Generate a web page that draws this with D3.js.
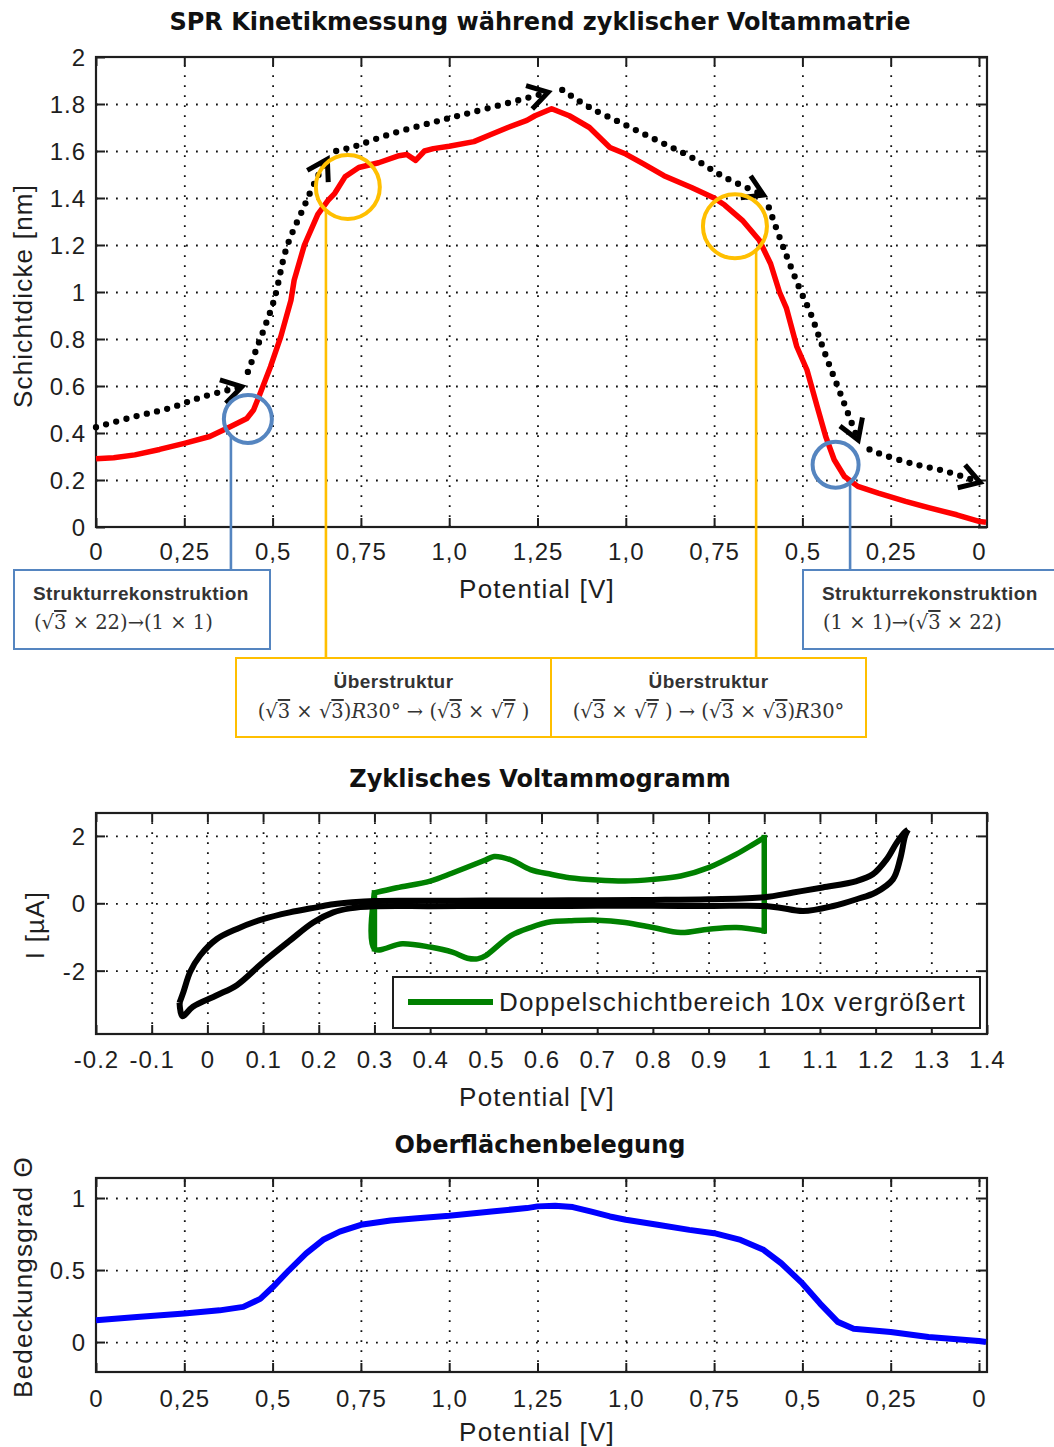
<!DOCTYPE html>
<html>
<head>
<meta charset="utf-8">
<script src="https://cdn.jsdelivr.net/npm/d3@7"></script>
<style>
  body { margin: 0; background: #fff; }
  svg text { white-space: pre; }
</style>
</head>
<body>
<svg id="fig" width="1054" height="1447"></svg>
<script>
// ---------------------------------------------------------------
// Potential sweep axis: 0 V -> 1.25 V -> 0 V, stored as sweep
// coordinate 0..2.5 and labelled with the actual potential.
// ---------------------------------------------------------------
const sweepTicks = [0, 0.25, 0.5, 0.75, 1.0, 1.25, 1.5, 1.75, 2.0, 2.25, 2.5];
const sweepTickLabels = ["0", "0,25", "0,5", "0,75", "1,0", "1,25", "1,0", "0,75", "0,5", "0,25", "0"];

// SPR layer thickness [nm] along the sweep
const sprSweep = [0, 0.05, 0.11, 0.18, 0.25, 0.322, 0.38, 0.427, 0.446, 0.465, 0.494, 0.523, 0.552,
  0.561, 0.59, 0.628, 0.657, 0.676, 0.705, 0.744, 0.80, 0.858, 0.88, 0.905, 0.93, 0.955, 1.0,
  1.07, 1.118, 1.166, 1.22, 1.243, 1.29, 1.34, 1.397, 1.455, 1.5, 1.55, 1.608, 1.686, 1.75,
  1.78, 1.83, 1.878, 1.91, 1.935, 1.955, 1.984, 2.013, 2.042, 2.066, 2.09, 2.119, 2.157,
  2.215, 2.292, 2.36, 2.437, 2.5, 2.52];
const sprThickness = [0.29, 0.295, 0.307, 0.33, 0.356, 0.385, 0.427, 0.462, 0.498, 0.569, 0.682, 0.809, 0.965,
  1.05, 1.2, 1.33, 1.39, 1.42, 1.49, 1.53, 1.55, 1.58, 1.585, 1.56, 1.60, 1.61, 1.62,
  1.64, 1.67, 1.70, 1.73, 1.75, 1.78, 1.75, 1.70, 1.615, 1.587, 1.545, 1.495, 1.445, 1.40,
  1.37, 1.305, 1.22, 1.12, 1.0, 0.93, 0.768, 0.668, 0.512, 0.385, 0.286, 0.215, 0.173,
  0.144, 0.109, 0.081, 0.052, 0.024, 0.02];
const sprTicks = [0, 0.2, 0.4, 0.6, 0.8, 1, 1.2, 1.4, 1.6, 1.8, 2];

// Dotted guide arrows (sweep, thickness), one chevron at the end of each
const guideSegments = [
  [[0, 0.425], [0.11, 0.47], [0.206, 0.505], [0.302, 0.554], [0.413, 0.597]],
  [[0.43, 0.66], [0.455, 0.76], [0.48, 0.86], [0.505, 0.97], [0.54, 1.19], [0.588, 1.36], [0.627, 1.49], [0.655, 1.565]],
  [[0.68, 1.6], [0.733, 1.62], [0.829, 1.67], [0.974, 1.73], [1.118, 1.785], [1.28, 1.85]],
  [[1.32, 1.86], [1.397, 1.786], [1.493, 1.715], [1.59, 1.644], [1.686, 1.573], [1.78, 1.488], [1.89, 1.413]],
  [[1.905, 1.36], [1.946, 1.19], [1.994, 1.008], [2.023, 0.91], [2.047, 0.81], [2.071, 0.71], [2.1, 0.597], [2.129, 0.484], [2.158, 0.37]],
  [[2.19, 0.33], [2.215, 0.314], [2.311, 0.27], [2.408, 0.236], [2.503, 0.19]]
];

// Highlighted transitions: ring centre, ring radius, leader position
const ringSweep = [0.43, 0.713, 1.809, 2.094];
const ringThickness = [0.46, 1.447, 1.28, 0.265];
const ringRadius = [24, 32, 32, 23];
const leaderSweep = [0.382, 0.651, 1.869, 2.135];
const ringKind = ["rec", "over", "over", "rec"];

// Annotation texts
const boxTitles = ["Strukturrekonstruktion", "Überstruktur", "Überstruktur", "Strukturrekonstruktion"];
// formula pieces: [text, style]  (o = overlined radicand, i = italic)
const boxFormulas = [
  [["("], ["√"], ["3", "o"], [" × 22)"], ["→"], ["(1 × 1)"]],
  [["("], ["√"], ["3", "o"], [" × "], ["√"], ["3", "o"], [")"], ["R", "i"], ["30°"], [" → "], ["("], ["√"], ["3", "o"], [" × "], ["√"], ["7", "o"], [" )"]],
  [["("], ["√"], ["3", "o"], [" × "], ["√"], ["7", "o"], [" )"], [" → "], ["("], ["√"], ["3", "o"], [" × "], ["√"], ["3", "o"], [")"], ["R", "i"], ["30°"]],
  [["(1 × 1)"], ["→"], ["("], ["√"], ["3", "o"], [" × 22)"]]
];

// ---------------------------------------------------------------
// Cyclic voltammogram: potential [V], current [µA]
// ---------------------------------------------------------------
const cvTicksX = [-0.2, -0.1, 0, 0.1, 0.2, 0.3, 0.4, 0.5, 0.6, 0.7, 0.8, 0.9, 1, 1.1, 1.2, 1.3, 1.4];
const cvTicksY = [-2, 0, 2];
const cvAnodic = [[-0.05, -2.95], [-0.043, -2.63], [-0.031, -2.04], [-0.013, -1.55], [0.017, -1.06],
  [0.053, -0.76], [0.1, -0.47], [0.148, -0.27], [0.196, -0.12], [0.226, -0.03], [0.26, 0.03],
  [0.3, 0.07], [0.4, 0.075], [0.5, 0.08], [0.6, 0.085], [0.7, 0.09], [0.8, 0.1], [0.9, 0.12],
  [1.0, 0.18], [1.052, 0.32], [1.105, 0.47], [1.166, 0.66], [1.195, 0.86], [1.22, 1.31],
  [1.238, 1.8], [1.253, 2.12], [1.258, 2.18]];
const cvCathodic = [[1.258, 2.18], [1.253, 2.0], [1.244, 1.31], [1.231, 0.71], [1.2, 0.32],
  [1.166, 0.12], [1.124, -0.08], [1.07, -0.23], [1.028, -0.13], [1.0, -0.08], [0.9, -0.08],
  [0.8, -0.075], [0.7, -0.075], [0.6, -0.08], [0.5, -0.08], [0.4, -0.085], [0.3, -0.09],
  [0.256, -0.15], [0.226, -0.27], [0.19, -0.57], [0.148, -1.11], [0.1, -1.75], [0.053, -2.43],
  [0.017, -2.73], [-0.026, -3.07], [-0.045, -3.35], [-0.05, -2.95]];
// Double-layer region, current x10
const dlLoop = [[0.3, 0.31], [0.34, 0.46], [0.4, 0.66], [0.44, 0.9], [0.5, 1.29], [0.515, 1.39],
  [0.545, 1.29], [0.58, 1.0], [0.617, 0.86], [0.65, 0.76], [0.7, 0.69], [0.75, 0.66], [0.8, 0.71],
  [0.85, 0.81], [0.9, 1.06], [0.95, 1.46], [0.98, 1.75], [1.0, 1.95], [1.0, -0.82], [0.95, -0.72],
  [0.9, -0.77], [0.85, -0.87], [0.8, -0.72], [0.75, -0.57], [0.7, -0.5], [0.65, -0.52],
  [0.617, -0.55], [0.58, -0.72], [0.545, -0.96], [0.5, -1.55], [0.485, -1.65], [0.467, -1.63],
  [0.44, -1.45], [0.4, -1.3], [0.35, -1.2], [0.3, -1.35], [0.3, 0.31]];
const dlLegend = "Doppelschichtbereich 10x vergrößert";

// ---------------------------------------------------------------
// Surface coverage along the sweep
// ---------------------------------------------------------------
const coverageSweep = [0, 0.116, 0.25, 0.35, 0.417, 0.465, 0.5, 0.547, 0.595, 0.643, 0.69, 0.75,
  0.834, 0.91, 1.0, 1.12, 1.22, 1.25, 1.30, 1.35, 1.40, 1.455, 1.5, 1.59, 1.68, 1.75, 1.825,
  1.89, 1.94, 2.0, 2.05, 2.10, 2.145, 2.25, 2.357, 2.5, 2.52];
const coverage = [0.151, 0.174, 0.198, 0.22, 0.244, 0.30, 0.38, 0.5, 0.616, 0.71, 0.767, 0.814,
  0.844, 0.86, 0.877, 0.907, 0.93, 0.942, 0.947, 0.937, 0.907, 0.872, 0.849, 0.814, 0.779, 0.756,
  0.709, 0.64, 0.547, 0.407, 0.267, 0.14, 0.093, 0.07, 0.035, 0.007, 0.0];
const coverageTicks = [0, 0.5, 1];

// ---------------------------------------------------------------
const svg = d3.select("#fig");
svg.append("rect").attr("width", 1054).attr("height", 1447).attr("fill", "#fff");

const AX_FONT = "'Liberation Sans', Arial, sans-serif";
const TITLE_FONT = "'DejaVu Sans', Verdana, sans-serif";
const BOX_FONT = "'Liberation Sans', Arial, sans-serif";
const MATH_FONT = "'DejaVu Serif', 'Liberation Serif', serif";
const INK = "#1e1e1e";
const BLUE_NOTE = "#5585c0";
const ORANGE_NOTE = "#ffbf00";

const numFmt = d => String(+d.toFixed(1));

function panel(cfg) {
  const { x, y, left, right, top, bottom, xTicks, xFmt, yTicks, xGrid, yGrid,
    tickBaseline, title, titleBaseline, xLabelBaseline, yLabel, yLabelX, yLabelY } = cfg;
  const g = svg.append("g");

  // dotted grid
  g.append("g").attr("transform", `translate(0,${bottom})`)
    .call(d3.axisBottom(x).tickValues(xGrid).tickSize(-(bottom - top)).tickFormat(""))
    .call(a => a.select(".domain").remove())
    .selectAll("line").attr("stroke", "#111").attr("stroke-width", 1.8).attr("stroke-dasharray", "1.8 8.2");
  g.append("g").attr("transform", `translate(${left},0)`)
    .call(d3.axisLeft(y).tickValues(yGrid).tickSize(-(right - left)).tickFormat(""))
    .call(a => a.select(".domain").remove())
    .selectAll("line").attr("stroke", "#111").attr("stroke-width", 1.8).attr("stroke-dasharray", "1.8 8.2");

  // inward ticks on all four sides
  const styleTicks = a => {
    a.select(".domain").remove();
    a.selectAll("line").attr("stroke", INK).attr("stroke-width", 2);
    a.selectAll("text").style("font-family", AX_FONT).style("font-size", "24px")
      .style("letter-spacing", "1px").attr("fill", INK);
  };
  g.append("g").attr("transform", `translate(0,${bottom})`)
    .call(d3.axisBottom(x).tickValues(xTicks).tickFormat(xFmt).tickSizeInner(-9).tickSizeOuter(0))
    .call(styleTicks)
    .selectAll("text").attr("y", tickBaseline - bottom).attr("dy", 0);
  g.append("g").attr("transform", `translate(0,${top})`)
    .call(d3.axisTop(x).tickValues(xTicks).tickFormat("").tickSizeInner(-9).tickSizeOuter(0))
    .call(styleTicks);
  g.append("g").attr("transform", `translate(${left},0)`)
    .call(d3.axisLeft(y).tickValues(yTicks).tickFormat(numFmt).tickSizeInner(-9).tickSizeOuter(0))
    .call(styleTicks)
    .selectAll("text").attr("x", 86 - left).attr("dy", "0.35em");
  g.append("g").attr("transform", `translate(${right},0)`)
    .call(d3.axisRight(y).tickValues(yTicks).tickFormat("").tickSizeInner(-9).tickSizeOuter(0))
    .call(styleTicks);

  // frame
  g.append("rect").attr("x", left).attr("y", top).attr("width", right - left).attr("height", bottom - top)
    .attr("fill", "none").attr("stroke", INK).attr("stroke-width", 2.2);

  // title and axis labels
  svg.append("text").attr("x", 540).attr("y", titleBaseline).attr("text-anchor", "middle")
    .style("font-family", TITLE_FONT).style("font-weight", "bold").style("font-size", "24px")
    .attr("fill", "#111").text(title);
  svg.append("text").attr("x", 537).attr("y", xLabelBaseline).attr("text-anchor", "middle")
    .style("font-family", AX_FONT).style("font-size", "26px").style("letter-spacing", "1.2px")
    .attr("fill", INK).text("Potential [V]");
  svg.append("text").attr("transform", `translate(${yLabelX},${yLabelY}) rotate(-90)`)
    .attr("text-anchor", "middle")
    .style("font-family", AX_FONT).style("font-size", "26px").style("letter-spacing", "1.2px")
    .attr("fill", INK).text(yLabel);

  return g;
}

function chevron(g, p, q) {
  const ang = Math.atan2(q[1] - p[1], q[0] - p[0]);
  const L = 23, spread = 0.55;
  const a1 = ang + Math.PI - spread, a2 = ang + Math.PI + spread;
  g.append("path")
    .attr("d", `M${q[0] + L * Math.cos(a1)},${q[1] + L * Math.sin(a1)}L${q[0]},${q[1]}L${q[0] + L * Math.cos(a2)},${q[1] + L * Math.sin(a2)}`)
    .attr("fill", "none").attr("stroke", "#000").attr("stroke-width", 5)
    .attr("stroke-linejoin", "miter").attr("stroke-linecap", "butt");
}

// ================= Panel 1: SPR kinetics =================
const x1 = d3.scaleLinear().domain([0, 2.5]).range([96, 979]);
const y1 = d3.scaleLinear().domain([0, 2]).range([527, 57]);
const sweepFmt = (d, i) => sweepTickLabels[i];

const p1 = panel({
  x: x1, y: y1, left: 96, right: 987, top: 57, bottom: 527,
  xTicks: sweepTicks, xFmt: sweepFmt, yTicks: sprTicks,
  xGrid: sweepTicks.slice(1), yGrid: sprTicks.slice(1, -1),
  tickBaseline: 560, title: "SPR Kinetikmessung während zyklischer Voltammatrie", titleBaseline: 30,
  xLabelBaseline: 598, yLabel: "Schichtdicke [nm]", yLabelX: 32, yLabelY: 296
});

const sprLine = d3.line().x(d => x1(d[0])).y(d => y1(d[1]));
p1.append("path").datum(sprSweep.map((s, i) => [s, sprThickness[i]]))
  .attr("d", sprLine).attr("fill", "none").attr("stroke", "#ff0000")
  .attr("stroke-width", 5.5).attr("stroke-linejoin", "round");

// dotted guide arrows
const guideLine = d3.line().x(d => x1(d[0])).y(d => y1(d[1])).curve(d3.curveCatmullRom.alpha(0.5));
guideSegments.forEach(seg => {
  p1.append("path").datum(seg).attr("d", guideLine).attr("fill", "none")
    .attr("stroke", "#000").attr("stroke-width", 6.3).attr("stroke-linecap", "round")
    .attr("stroke-dasharray", "0 10.5");
  const n = seg.length;
  chevron(p1, [x1(seg[n - 2][0]), y1(seg[n - 2][1])], [x1(seg[n - 1][0]), y1(seg[n - 1][1])]);
});

// annotation boxes (layout)
const boxes = [
  { x: 14, y: 570, w: 256, h: 79, anchor: "start", tx: 33, ty1: 600, ty2: 629 },
  { x: 236, y: 658, w: 315, h: 79, anchor: "middle", tx: 393.5, ty1: 688, ty2: 718 },
  { x: 551, y: 658, w: 315, h: 79, anchor: "middle", tx: 708.5, ty1: 688, ty2: 718 },
  { x: 803, y: 570, w: 262, h: 79, anchor: "start", tx: 822, ty1: 600, ty2: 629 }
];

const notes = svg.append("g");
ringSweep.forEach((s, i) => {
  const col = ringKind[i] === "rec" ? BLUE_NOTE : ORANGE_NOTE;
  const cx = x1(s), cy = y1(ringThickness[i]), r = ringRadius[i];
  const lx = x1(leaderSweep[i]);
  const dx = lx - cx;
  const ly = cy + Math.sqrt(Math.max(r * r - dx * dx, 0));
  notes.append("line").attr("x1", lx).attr("x2", lx).attr("y1", ly).attr("y2", boxes[i].y)
    .attr("stroke", col).attr("stroke-width", 2.6);
  notes.append("circle").attr("cx", cx).attr("cy", cy).attr("r", r)
    .attr("fill", "none").attr("stroke", col).attr("stroke-width", 4);
});

boxes.forEach((b, i) => {
  const col = ringKind[i] === "rec" ? BLUE_NOTE : ORANGE_NOTE;
  notes.append("rect").attr("x", b.x).attr("y", b.y).attr("width", b.w).attr("height", b.h)
    .attr("fill", "#fff").attr("stroke", col).attr("stroke-width", 2);
  notes.append("text").attr("x", b.tx).attr("y", b.ty1).attr("text-anchor", b.anchor)
    .style("font-family", BOX_FONT).style("font-weight", "bold").style("font-size", "19px")
    .style("letter-spacing", "0.4px").attr("fill", "#333").text(boxTitles[i]);
  const t = notes.append("text").attr("x", b.anchor === "start" ? b.tx + 1 : b.tx).attr("y", b.ty2)
    .attr("text-anchor", b.anchor)
    .style("font-family", MATH_FONT).style("font-size", "19.5px").attr("fill", "#333");
  boxFormulas[i].forEach(([txt, st]) => {
    const sp = t.append("tspan").text(txt);
    if (st === "o") sp.style("text-decoration", "overline");
    if (st === "i") sp.style("font-style", "italic");
  });
});

// ================= Panel 2: cyclic voltammogram =================
const x2 = d3.scaleLinear().domain([-0.2, 1.4]).range([96, 987]);
const y2 = d3.scaleLinear().domain([-3.88, 2.68]).range([1034, 813]);

const p2 = panel({
  x: x2, y: y2, left: 96, right: 987, top: 813, bottom: 1034,
  xTicks: cvTicksX, xFmt: numFmt, yTicks: cvTicksY,
  xGrid: cvTicksX.slice(1, -1), yGrid: cvTicksY,
  tickBaseline: 1068, title: "Zyklisches Voltammogramm", titleBaseline: 787,
  xLabelBaseline: 1106, yLabel: "I [µA]", yLabelX: 44, yLabelY: 925
});

const cvLine = d3.line().x(d => x2(d[0])).y(d => y2(d[1])).curve(d3.curveCatmullRom.alpha(0.5));
p2.append("path").datum(dlLoop.slice(0, 18)).attr("d", cvLine).attr("fill", "none")
  .attr("stroke", "#008000").attr("stroke-width", 5.5);
p2.append("path").datum(dlLoop.slice(18)).attr("d", cvLine).attr("fill", "none")
  .attr("stroke", "#008000").attr("stroke-width", 5.5);
// vertical turning edges of the double-layer loop
[[dlLoop[17], dlLoop[18]], [dlLoop[35], dlLoop[36]]].forEach(([a, b]) => {
  p2.append("line").attr("x1", x2(a[0])).attr("x2", x2(b[0])).attr("y1", y2(a[1])).attr("y2", y2(b[1]))
    .attr("stroke", "#008000").attr("stroke-width", 5.5).attr("stroke-linecap", "square");
});
[cvAnodic, cvCathodic].forEach(branch => {
  p2.append("path").datum(branch).attr("d", cvLine).attr("fill", "none")
    .attr("stroke", "#000").attr("stroke-width", 6).attr("stroke-linejoin", "round");
});

// legend
const lg = p2.append("g");
lg.append("rect").attr("x", 393).attr("y", 977).attr("width", 587).attr("height", 51)
  .attr("fill", "#fff").attr("stroke", INK).attr("stroke-width", 2);
lg.append("line").attr("x1", 408).attr("x2", 493).attr("y1", 1002).attr("y2", 1002)
  .attr("stroke", "#008000").attr("stroke-width", 6);
lg.append("text").attr("x", 499).attr("y", 1011)
  .style("font-family", AX_FONT).style("font-size", "26px").style("letter-spacing", "1.2px")
  .attr("fill", INK).text(dlLegend);

// ================= Panel 3: surface coverage =================
const y3 = d3.scaleLinear().domain([-0.208, 1.139]).range([1372, 1178]);
const p3 = panel({
  x: x1, y: y3, left: 96, right: 987, top: 1178, bottom: 1372,
  xTicks: sweepTicks, xFmt: sweepFmt, yTicks: coverageTicks,
  xGrid: sweepTicks.slice(1), yGrid: coverageTicks,
  tickBaseline: 1407, title: "Oberflächenbelegung", titleBaseline: 1153,
  xLabelBaseline: 1441, yLabel: "Bedeckungsgrad Θ", yLabelX: 32, yLabelY: 1277
});
p3.append("path").datum(coverageSweep.map((s, i) => [s, coverage[i]]))
  .attr("d", d3.line().x(d => x1(d[0])).y(d => y3(d[1])))
  .attr("fill", "none").attr("stroke", "#0000ff").attr("stroke-width", 6).attr("stroke-linejoin", "round");
</script>
</body>
</html>
